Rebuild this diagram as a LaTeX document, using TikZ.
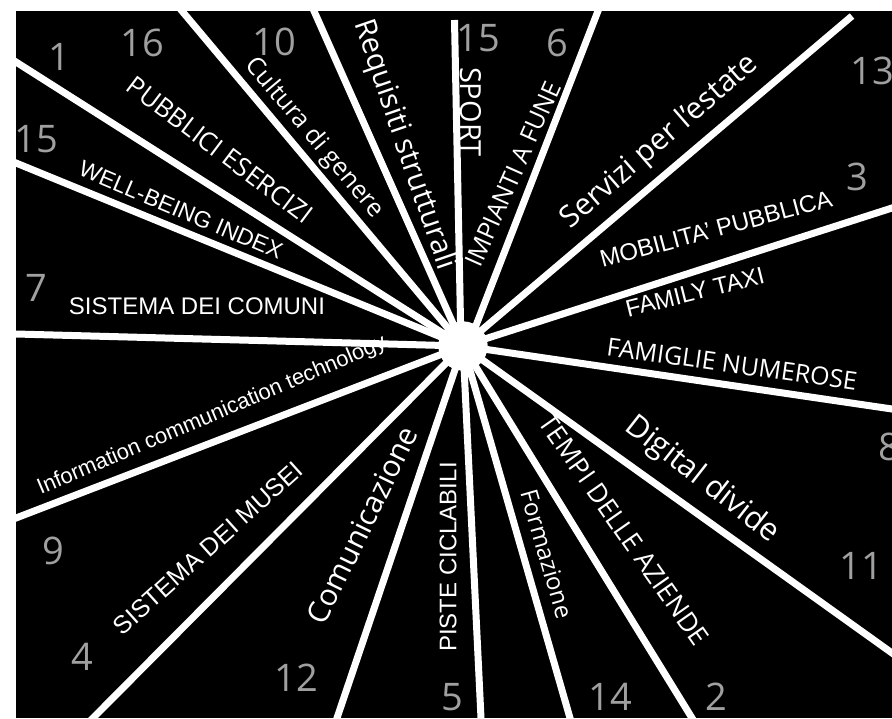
\documentclass[tikz,border=0pt]{standalone}
\usepackage{fontspec}
\setmainfont{Liberation Sans}
\newfontfamily\segoe{Open Sans}
\newfontfamily\arial{Liberation Sans}
\usetikzlibrary{calc}
\definecolor{numgray}{RGB}{160,160,160}
\begin{document}
\begin{tikzpicture}[x=1pt,y=-1pt,
  ray/.style={draw=white, line width=7pt},
  hubnode/.style={circle, fill=white, minimum size=49pt, inner sep=0pt},
  lab/.style={text=white, inner sep=0pt, anchor=center},
  num/.style={text=numgray, inner sep=0pt, font=\segoe\fontsize{38}{38}\selectfont}]
\useasboundingbox (0,0) rectangle (892,718);
\fill[black] (16,11) rectangle (892,718);
\begin{scope}
\clip (16,11) rectangle (892,718);
\node[hubnode] (hub) at (463,346) {};
\coordinate (e1) at (16,62);
\coordinate (e2) at (16,163);
\coordinate (e3) at (182,11);
\coordinate (e4) at (314,11);
\coordinate (e5) at (454.5,20);
\coordinate (e6) at (598,11);
\coordinate (e7) at (852,16);
\coordinate (e8) at (892,208);
\coordinate (e9) at (892,409);
\coordinate (e10) at (892,653);
\coordinate (e11) at (692,718);
\coordinate (e12) at (570,718);
\coordinate (e13) at (481,718);
\coordinate (e14) at (337,718);
\coordinate (e15) at (93,718);
\coordinate (e16) at (16,518);
\coordinate (e17) at (16,334);
\coordinate (s5) at (461,346);
\coordinate (s6) at (468,346);
\foreach \i in {1,2,3,4,8,9,10,11,12,13,14,15,16,17}
  \draw[ray] (hub.center) -- ($(hub.center)!1.05!(e\i)$);
\draw[ray] (s5) -- (e5);
\draw[ray] (s6) -- ($(s6)!1.05!(e6)$);
\draw[ray] (hub.center) -- (e7);
\node[hubnode] at (hub.center) {};

\node[lab, font=\segoe\fontsize{26}{26}\selectfont, rotate=-37] (t1) at (220,150) {PUBBLICI ESERCIZI};
\node[lab, font=\segoe\fontsize{25}{25}\selectfont, rotate=-50] (t2) at (314,138) {Cultura di genere};
\node[lab, font=\segoe\fontsize{29.5}{29.5}\selectfont, rotate=-71] (t3) at (404,145) {Requisiti strutturali};
\node[lab, font=\segoe\fontsize{29}{29}\selectfont, rotate=-90] (t4) at (471,112) {SPORT};
\node[lab, font=\segoe\fontsize{25}{25}\selectfont, rotate=66] (t5) at (513,174) {IMPIANTI A FUNE};
\node[lab, font=\segoe\fontsize{30}{30}\selectfont, rotate=41] (t6) at (660,142) {Servizi per l’estate};
\node[lab, font=\arial\fontsize{24}{24}\selectfont, rotate=15] (t7) at (716,229) {MOBILITA’ PUBBLICA};
\node[lab, font=\arial\fontsize{24}{24}\selectfont, rotate=14] (t8) at (695,292) {FAMILY TAXI};
\node[lab, font=\segoe\fontsize{25}{25}\selectfont, rotate=-8] (t9) at (732,364) {FAMIGLIE NUMEROSE};
\node[lab, font=\segoe\fontsize{31}{31}\selectfont, rotate=-38] (t10) at (702,480) {Digital divide};
\node[lab, font=\segoe\fontsize{26.5}{26.5}\selectfont, rotate=-55] (t11) at (624,530) {TEMPI DELLE AZIENDE};
\node[lab, font=\segoe\fontsize{24}{24}\selectfont, rotate=-74] (t12) at (547,554) {Formazione};
\node[lab, font=\arial\fontsize{24}{24}\selectfont, rotate=90] (t13) at (448,557) {PISTE CICLABILI};
\node[lab, font=\segoe\fontsize{30}{30}\selectfont, rotate=64] (t14) at (362,525) {Comunicazione};
\node[lab, font=\arial\fontsize{25}{25}\selectfont, rotate=42] (t15) at (208,548) {SISTEMA DEI MUSEI};
\node[lab, font=\arial\fontsize{22}{22}\selectfont, rotate=23] (t16) at (212,416) {Information communication technology};
\node[lab, font=\arial\fontsize{24}{24}\selectfont] (t17) at (197,306) {SISTEMA DEI COMUNI};
\node[lab, font=\arial\fontsize{23}{23}\selectfont, rotate=-23] (t18) at (181,210) {WELL-BEING INDEX};

\node[num] (n1) at (59,57) {1};
\node[num] (n16) at (142,43) {16};
\node[num] (n10) at (274,42) {10};
\node[num] (n15a) at (478,38) {15};
\node[num] (n6) at (557,43) {6};
\node[num] (n13) at (872,71) {13};
\node[num] (n3) at (857,177) {3};
\node[num] (n15b) at (36,139) {15};
\node[num] (n7) at (36,288) {7};
\node[num] (n9) at (53,551) {9};
\node[num] (n4) at (82,657) {4};
\node[num] (n12) at (296,678) {12};
\node[num] (n5) at (452,697) {5};
\node[num] (n14) at (610,697) {14};
\node[num] (n2) at (716,697) {2};
\node[num] (n11) at (861,566) {11};
\node[num] (n8) at (889,447) {8};
\end{scope}
\end{tikzpicture}
\end{document}
